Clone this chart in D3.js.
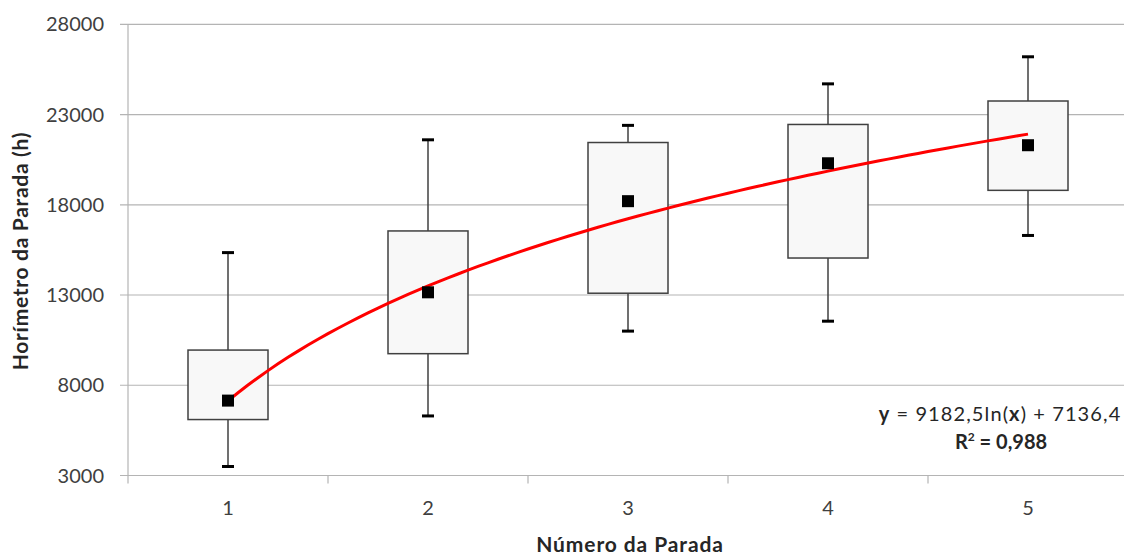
<!DOCTYPE html>
<head>
    <meta charset="utf-8">
    <title>Horímetro da Parada</title>
    <script src="https://d3js.org/d3.v7.min.js"></script>
    <style>
        body { margin: 0; background: #ffffff; }
        svg text { font-family: Lato, "Open Sans", sans-serif; }
    </style>
</head>
<body>
    <svg class="chart" width="1124" height="557"></svg>
    <script>
        // valores
        const paradas = [1, 2, 3, 4, 5];
        const minimos = [3500, 6300, 11000, 11550, 16300];
        const quartil1 = [6100, 9750, 13100, 15050, 18800];
        const quartil3 = [9950, 16550, 21450, 22450, 23750];
        const maximos = [15350, 21600, 22400, 24700, 26200];
        const medias = [7150, 13150, 18200, 20300, 21300];
        const yTicks = [3000, 8000, 13000, 18000, 23000, 28000];
        // linha de tendência logarítmica (coeficientes do rótulo)
        const coefA = 9182.5, coefB = 7136.4;

        const mLeft = 128, mRight = 1128, mTop = 24.3, mBottom = 475.5;
        const svg = d3.select("svg");

        var x = d3.scaleBand().domain(paradas).range([mLeft, mRight]);
        var xl = d3.scaleLinear().domain([0.5, 5.5]).range([mLeft, mRight]);
        var y = d3.scaleLinear().domain([3000, 28000]).range([mBottom, mTop]);

        // grid
        svg.append("g").selectAll("line").data(yTicks).enter().append("line")
            .attr("x1", mLeft - 8).attr("x2", mRight)
            .attr("y1", d => y(d)).attr("y2", d => y(d))
            .attr("stroke", "#b4b4b4").attr("stroke-width", 1.2);

        // y axis line + labels
        svg.append("line").attr("x1", mLeft).attr("x2", mLeft)
            .attr("y1", mTop).attr("y2", mBottom + 8)
            .attr("stroke", "#b4b4b4").attr("stroke-width", 1.2);
        svg.append("g").selectAll("text").data(yTicks).enter().append("text")
            .attr("x", 104).attr("y", d => y(d)).attr("dy", "0.35em")
            .attr("text-anchor", "end").attr("font-size", 20).attr("fill", "#404040")
            .text(d => d);

        // x axis ticks between categories
        svg.append("g").selectAll("line").data(paradas.slice(1)).enter().append("line")
            .attr("x1", d => x(d)).attr("x2", d => x(d))
            .attr("y1", mBottom).attr("y2", mBottom + 8)
            .attr("stroke", "#b4b4b4").attr("stroke-width", 1.2);
        svg.append("g").selectAll("text").data(paradas).enter().append("text")
            .attr("x", d => x(d) + x.bandwidth() / 2).attr("y", 515)
            .attr("text-anchor", "middle").attr("font-size", 20).attr("fill", "#404040")
            .text(d => d);

        // box plots
        const boxW = x.bandwidth() * 0.4;
        const g = svg.append("g");
        paradas.forEach(function(p, i) {
            var cx = x(p) + x.bandwidth() / 2;
            g.append("line").attr("x1", cx).attr("x2", cx)
                .attr("y1", y(maximos[i])).attr("y2", y(minimos[i]))
                .attr("stroke", "#404040").attr("stroke-width", 1.5);
            g.append("rect").attr("x", cx - boxW / 2).attr("width", boxW)
                .attr("y", y(quartil3[i])).attr("height", y(quartil1[i]) - y(quartil3[i]))
                .attr("fill", "#f8f8f8").attr("stroke", "#404040").attr("stroke-width", 1.5);
            [maximos[i], minimos[i]].forEach(function(v) {
                g.append("line").attr("x1", cx - 6).attr("x2", cx + 6)
                    .attr("y1", y(v)).attr("y2", y(v))
                    .attr("stroke", "#000").attr("stroke-width", 3);
            });
        });

        // trend line
        const tx = d3.range(1, 5.001, 0.05);
        svg.append("path").datum(tx)
            .attr("d", d3.line().x(d => xl(d)).y(d => y(coefA * Math.log(d) + coefB)))
            .attr("fill", "none").attr("stroke", "#ff0000").attr("stroke-width", 3);

        // means
        svg.append("g").selectAll("rect").data(paradas).enter().append("rect")
            .attr("x", d => x(d) + x.bandwidth() / 2 - 6)
            .attr("y", (d, i) => y(medias[i]) - 6)
            .attr("width", 12).attr("height", 12).attr("fill", "#000");

        // equation
        var eq = svg.append("text").attr("x", 1000).attr("y", 421)
            .attr("text-anchor", "middle").attr("font-size", 20).attr("letter-spacing", 1.1)
            .attr("fill", "#262626");
        eq.append("tspan").attr("font-weight", "bold").text("y");
        eq.append("tspan").text(" = 9182,5ln(");
        eq.append("tspan").attr("font-weight", "bold").text("x");
        eq.append("tspan").text(") + 7136,4");
        var r2 = svg.append("text").attr("x", 1001).attr("y", 449)
            .attr("text-anchor", "middle").attr("font-size", 20).attr("font-weight", "bold").attr("fill", "#262626");
        r2.append("tspan").text("R");
        r2.append("tspan").attr("font-size", 12).attr("dy", -8).text("2");
        r2.append("tspan").attr("dy", 8).text(" = 0,988");

        // axis titles
        svg.append("text").attr("x", 630).attr("y", 552)
            .attr("text-anchor", "middle").attr("font-size", 21).attr("letter-spacing", 0.9)
            .attr("font-weight", "bold").attr("fill", "#262626")
            .text("Número da Parada");
        svg.append("text").attr("transform", "translate(28,251) rotate(-90)")
            .attr("text-anchor", "middle").attr("font-size", 21).attr("letter-spacing", 0.7)
            .attr("font-weight", "bold").attr("fill", "#262626")
            .text("Horímetro da Parada (h)");
    </script>
</body>
